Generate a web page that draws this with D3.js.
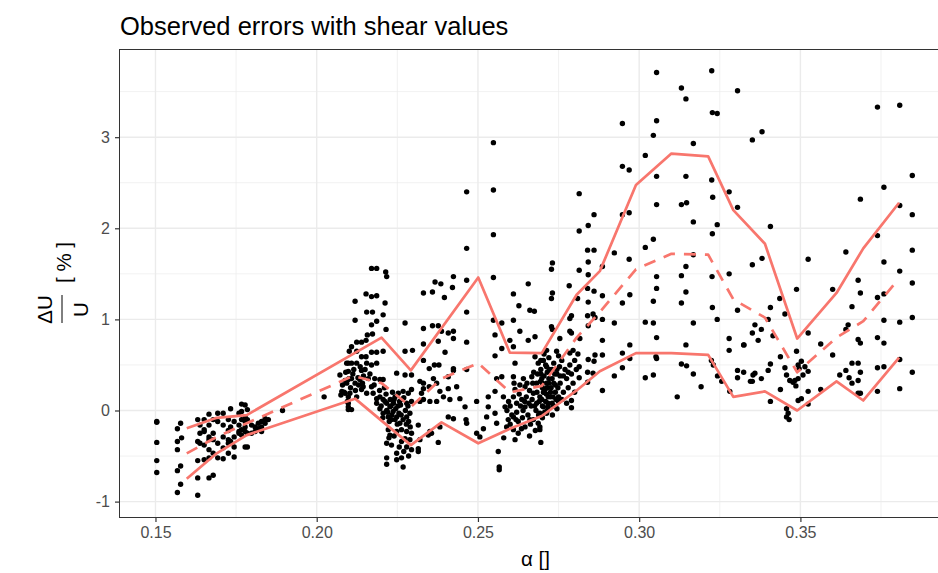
<!DOCTYPE html>
<html>
<head>
<meta charset="utf-8">
<script src="https://cdn.jsdelivr.net/npm/d3@7"></script>
<style>
  html, body { margin: 0; padding: 0; background: #ffffff; }
  svg { display: block; font-family: "Liberation Sans", Arial, sans-serif; }
</style>
</head>
<body>
<svg id="chart" width="938" height="573"></svg>
<script>
// ---------------- DATA ----------------
const chartTitle = "Observed errors with shear values";
const xTicks = [0.15, 0.20, 0.25, 0.30, 0.35];
const xTickLabels = ["0.15", "0.20", "0.25", "0.30", "0.35"];
const xMinor = [0.175, 0.225, 0.275, 0.325, 0.375];
const yTicks = [-1, 0, 1, 2, 3];
const yTickLabels = ["-1", "0", "1", "2", "3"];
const yMinor = [-0.5, 0.5, 1.5, 2.5, 3.5];
const xDomain = [0.139, 0.3967];
const yDomain = [-1.169, 3.968];

// observed points [alpha, dU/U %]
const obsLow = [
[0.1504,-0.12],[0.1504,-0.13],[0.1504,-0.35],[0.1504,-0.55],[0.1504,-0.68],
[0.1578,-0.14],[0.1568,-0.20],[0.1581,-0.30],[0.1568,-0.34],[0.1568,-0.43],[0.1578,-0.61],[0.1568,-0.66],[0.1578,-0.81],[0.1568,-0.90],
[0.1631,-0.10],[0.1631,-0.34],[0.1631,-0.55],[0.1631,-0.74],[0.1631,-0.93],
[0.1638,-0.16],[0.1638,-0.25],[0.1638,-0.36],
[0.1651,-0.10],[0.1651,-0.21],[0.1651,-0.23],[0.1651,-0.38],[0.1651,-0.54],
[0.1666,-0.04],[0.1666,-0.16],[0.1666,-0.29],[0.1666,-0.32],[0.1666,-0.43],[0.1666,-0.52],[0.1666,-0.74],
[0.1679,-0.10],[0.1679,-0.25],[0.1679,-0.32],[0.1679,-0.47],[0.1679,-0.71],
[0.1693,-0.03],[0.1693,-0.12],[0.1693,-0.36],[0.1693,-0.52],
[0.1710,-0.03],[0.1710,-0.16],[0.1710,-0.29],[0.1710,-0.41],[0.1710,-0.53],
[0.1726,-0.10],[0.1726,-0.22],[0.1726,-0.32],[0.1726,-0.36],[0.1726,-0.47],
[0.1733,0.02],[0.1733,-0.18],[0.1733,-0.34],
[0.1744,-0.12],[0.1744,-0.29],[0.1744,-0.40],[0.1744,-0.51],
[0.1759,-0.03],[0.1759,-0.16],[0.1759,-0.23],[0.1759,-0.25],
[0.1767,0.07],[0.1767,-0.01],[0.1767,-0.10],[0.1767,-0.21],[0.1767,-0.27],
[0.1778,0.06],[0.1778,-0.07],[0.1778,-0.12],[0.1778,-0.18],[0.1778,-0.23],[0.1778,-0.40],
[0.1785,0.01],[0.1785,-0.10],[0.1785,-0.25],[0.1785,-0.40],
[0.1798,-0.16],[0.1798,-0.25],[0.1809,-0.18],[0.1809,-0.23],[0.1819,-0.14],[0.1819,-0.20],
[0.1829,-0.12],[0.1829,-0.18],[0.1829,-0.23],[0.1840,-0.09],[0.1840,-0.14],[0.1850,-0.10],
[0.1894,0.00],[0.2023,0.15]
];

const obsMid = [
[0.2101,0.65],[0.2098,0.52],[0.2098,0.43],[0.2098,0.34],[0.2078,0.21],[0.2088,0.19],[0.2098,0.15],[0.2098,0.08],[0.2098,0.01],
[0.2170,1.56],[0.2186,1.56],[0.2214,1.52],[0.2217,1.47],[0.2119,1.20],[0.2119,0.99],[0.2153,1.28],[0.2170,1.25],[0.2186,1.26],
[0.2155,1.08],[0.2173,1.08],[0.2212,1.18],[0.2206,1.05],[0.2215,0.89],[0.2170,0.94],[0.2186,0.98],
[0.2124,0.75],[0.2139,0.75],[0.2153,0.77],[0.2157,0.83],[0.2173,0.84],[0.2108,0.70],[0.2124,0.65],[0.2139,0.59],[0.2153,0.59],
[0.2170,0.64],[0.2186,0.64],[0.2206,0.65],[0.2093,0.52],[0.2108,0.52],[0.2124,0.52],[0.2139,0.44],[0.2155,0.52],[0.2170,0.50],[0.2186,0.52],
[0.2072,0.39],[0.2093,0.30],[0.2108,0.35],[0.2119,0.30],[0.2134,0.34],[0.2144,0.26],[0.2103,0.19],[0.2124,0.15],[0.2139,0.23],
[0.2170,0.26],[0.2196,0.34],[0.2206,0.34],[0.2098,0.04],[0.2108,0.01],[0.2155,0.19],[0.2175,0.19],[0.2186,0.13],[0.2196,0.15],
[0.2206,0.12],[0.2217,0.08],[0.2186,0.08],[0.2196,0.02],[0.2206,-0.03],[0.2217,0.00],[0.2227,0.04],[0.2237,-0.01],[0.2222,-0.07],
[0.2232,-0.10],[0.2248,-0.07],[0.2258,-0.14],[0.2268,-0.10],[0.2279,-0.07],[0.2289,-0.03],[0.2243,0.15],[0.2253,0.19],[0.2268,0.21],
[0.2284,0.19],[0.2294,0.23],[0.2263,0.12],[0.2279,0.08],[0.2294,0.10],[0.2222,-0.21],[0.2227,-0.27],[0.2248,-0.23],[0.2263,-0.21],
[0.2279,-0.23],[0.2294,-0.25],[0.2274,-0.31],[0.2289,-0.32],[0.2217,-0.36],[0.2232,-0.38],[0.2263,-0.34],[0.2279,-0.40],[0.2294,-0.43],
[0.2315,-0.42],[0.2315,-0.45],[0.2217,-0.52],[0.2248,-0.47],[0.2263,-0.52],[0.2217,-0.59],[0.2248,-0.54],[0.2268,-0.62],
[0.2315,-0.16],[0.2320,-0.32],[0.2346,-0.27],[0.2351,-0.23],[0.2274,0.96],[0.2274,0.65],[0.2297,0.66],[0.2248,0.41],[0.2274,0.39],
[0.2294,0.39],[0.2320,0.32],[0.2331,0.30],[0.2325,0.19],[0.2331,0.12],[0.2320,0.10],[0.2351,0.10],[0.2372,0.10],
[0.2230,0.05],[0.2245,0.02],[0.2255,-0.03],[0.2240,0.12],[0.2260,0.06],[0.2275,0.00],[0.2285,-0.12],[0.2250,-0.15],[0.2235,0.20],
[0.2225,-0.12],[0.2215,0.18],[0.2210,0.25],[0.2195,0.22],[0.2180,0.35],[0.2165,0.40],[0.2150,0.45],[0.2145,0.38],[0.2130,0.28],
[0.2115,0.45],[0.2100,0.35],[0.2090,0.42],[0.2085,0.20],[0.2095,0.10],[0.2075,0.17],
[0.2200,0.05],[0.2205,-0.08],[0.2212,0.10],[0.2220,-0.02],[0.2228,0.12],[0.2233,-0.05],[0.2238,0.08],[0.2243,-0.10],[0.2252,0.05],
[0.2257,0.10],[0.2262,-0.05],[0.2270,0.14],[0.2278,-0.15],[0.2283,0.05],[0.2290,-0.18],[0.2224,-0.30],[0.2240,-0.28],[0.2256,-0.40],
[0.2270,-0.45],[0.2285,-0.50],[0.2080,0.28],[0.2088,0.33],[0.2105,0.25],[0.2112,0.40],[0.2120,0.22],[0.2128,0.36],[0.2135,0.48],
[0.2142,0.30],[0.2160,0.35],[0.2178,0.28]
];

const obsCentre = [
[0.2331,1.29],[0.2359,1.30],[0.2367,1.41],[0.2385,1.39],[0.2396,1.24],[0.2424,1.47],[0.2421,1.35],[0.2331,0.90],[0.2359,0.93],
[0.2377,0.93],[0.2387,0.87],[0.2424,0.87],[0.2424,0.79],[0.2331,0.73],[0.2377,0.76],[0.2408,0.85],[0.2398,0.64],[0.2331,0.55],
[0.2349,0.46],[0.2365,0.50],[0.2379,0.50],[0.2424,0.46],[0.2408,0.37],[0.2424,0.44],[0.2331,0.24],[0.2349,0.26],[0.2362,0.35],
[0.2372,0.30],[0.2382,0.21],[0.2408,0.24],[0.2434,0.26],[0.2393,0.15],[0.2413,0.12],[0.2356,-0.25],[0.2377,-0.35],[0.2382,-0.18],
[0.2408,-0.07],[0.2424,-0.09],[0.2444,0.13],[0.2460,0.04],[0.2463,-0.10],[0.2465,-0.14],[0.2465,2.40],[0.2465,1.78],[0.2465,1.43],
[0.2465,1.08],[0.2465,0.75],[0.2465,0.45],[0.2496,0.10],[0.2496,-0.25],[0.2506,-0.29],[0.2532,0.15],[0.2532,0.04],[0.2527,-0.07],
[0.2517,-0.20],[0.2553,-0.03],[0.2558,-0.14],[0.2563,-0.45],[0.2566,-0.62],[0.2566,-0.65],[0.2548,2.94],[0.2548,2.42],[0.2548,1.93],
[0.2548,1.46],[0.2548,0.99],[0.2553,0.83],[0.2553,0.60],[0.2558,0.35],[0.2553,0.21],[0.2574,0.96],[0.2574,0.68],[0.2574,0.37],
[0.2579,0.15],[0.2584,0.04],[0.2594,-0.10],[0.2589,-0.18],[0.2610,-0.07],[0.2610,1.28],[0.2610,0.99],[0.2599,0.77],[0.2610,0.70],
[0.2615,0.52],[0.2610,0.37],[0.2615,0.23],[0.2630,0.28],[0.2627,1.15],[0.2630,0.87],[0.2656,1.39],[0.2661,1.10],[0.2675,1.09],
[0.2677,0.81],[0.2656,0.77],[0.2610,0.15],[0.2620,0.08],[0.2636,0.12],[0.2646,0.04],[0.2610,-0.21],[0.2625,-0.25],[0.2646,-0.18],
[0.2661,-0.10],[0.2677,0.59],[0.2687,0.52],[0.2703,0.55],[0.2713,0.48],[0.2667,0.37],[0.2682,0.30],[0.2698,0.35],[0.2713,0.30],
[0.2672,0.19],[0.2692,0.15],[0.2708,0.23],[0.2718,0.15],[0.2682,0.08],[0.2703,0.04],[0.2692,-0.03],[0.2713,-0.03],[0.2672,-0.10],
[0.2687,-0.14],[0.2692,-0.21],[0.2718,0.04],[0.2641,0.35],[0.2646,0.26],
[0.2600,0.05],[0.2620,-0.02],[0.2640,0.00],[0.2655,-0.05],[0.2665,0.05],[0.2680,0.00],[0.2700,-0.08],[0.2710,0.10],[0.2725,0.20],
[0.2730,0.35],[0.2735,0.05],[0.2740,0.28],[0.2745,0.45],[0.2750,0.15],[0.2755,0.38],[0.2650,0.15],[0.2660,0.22],[0.2670,0.30],
[0.2685,0.40],[0.2695,0.45],[0.2705,0.38],[0.2720,0.30],[0.2715,0.42],[0.2690,0.10],[0.2700,0.25],[0.2625,-0.12],[0.2635,-0.20],
[0.2660,-0.28],[0.2678,-0.22],[0.2695,-0.35],[0.2580,-0.30],[0.2600,-0.15],[0.2615,-0.32],
[0.2590,0.00],[0.2595,0.10],[0.2605,-0.05],[0.2612,0.30],[0.2618,-0.10],[0.2628,0.18],[0.2632,0.05],[0.2638,-0.08],[0.2645,0.10],
[0.2652,0.30],[0.2658,0.08],[0.2663,-0.15],[0.2668,0.12],[0.2673,0.42],[0.2676,0.05],[0.2683,0.20],[0.2688,-0.05],[0.2694,0.32],
[0.2698,0.12],[0.2703,0.20],[0.2707,-0.02],[0.2712,0.18],[0.2717,0.08],[0.2722,0.45],[0.2727,0.25],[0.2733,0.15],[0.2738,0.40],
[0.2742,0.12],[0.2748,0.25],[0.2753,0.48]
];

const obsPeak = [
[0.3054,3.71],[0.3225,3.73],[0.3131,3.54],[0.3145,3.42],[0.3305,3.51],[0.3227,3.27],[0.3242,3.26],[0.2948,3.15],[0.3054,3.18],
[0.3044,3.02],[0.3168,2.93],[0.3019,2.80],[0.2948,2.68],[0.2969,2.64],[0.3054,2.57],[0.3145,2.57],[0.3225,2.53],[0.2814,2.38],
[0.3279,2.40],[0.3228,2.34],[0.3054,2.26],[0.3131,2.26],[0.3147,2.28],[0.3305,2.23],[0.2860,2.15],[0.2948,2.15],[0.2969,2.17],
[0.3168,2.07],[0.3242,2.04],[0.2842,2.03],[0.2814,1.97],[0.3227,1.94],[0.3019,1.79],[0.3044,1.88],[0.2840,1.76],[0.2860,1.76],
[0.2923,1.73],[0.3168,1.71],[0.2842,1.63],[0.2969,1.66],[0.2731,1.62],[0.2728,1.55],[0.2814,1.54],[0.3145,1.58],[0.2886,1.58],
[0.3279,1.50],[0.3131,1.48],[0.3054,1.47],[0.3226,1.47],[0.2842,1.49],[0.2783,1.37],[0.3054,1.34],[0.3145,1.30],[0.2840,1.34],
[0.2860,1.31],[0.2886,1.26],[0.2971,1.27],[0.2731,1.29],[0.2728,1.23],[0.2809,1.23],[0.2948,1.18],[0.3044,1.20],[0.3131,1.18],
[0.2842,1.19],[0.3227,1.13],[0.3305,1.10],[0.2790,1.04],[0.2785,1.01],[0.2840,1.04],[0.2857,1.06],[0.2863,1.02],[0.2886,1.00],
[0.2923,0.96],[0.3242,1.00],[0.3019,0.97],[0.3044,0.96],[0.3168,0.96],[0.2728,0.92],[0.2731,0.89],[0.2842,0.93],[0.2785,0.87],
[0.2790,0.85],[0.2816,0.79],[0.2754,0.79],[0.2886,0.77],[0.3054,0.80],[0.3279,0.79],[0.2971,0.72],[0.3145,0.72],[0.3325,0.72],
[0.2713,0.66],[0.2744,0.65],[0.2785,0.63],[0.2795,0.66],[0.2863,0.61],[0.2886,0.61],[0.3279,0.66],[0.2948,0.63],[0.2971,0.57],
[0.2842,0.56],[0.2860,0.54],[0.2814,0.48],[0.3052,0.59],[0.3054,0.57],[0.3131,0.51],[0.3147,0.49],[0.3224,0.55],[0.3230,0.50],
[0.2948,0.47],[0.2923,0.38],[0.2840,0.42],[0.2857,0.41],[0.3019,0.36],[0.3044,0.39],[0.3168,0.40],[0.3243,0.38],[0.3256,0.32],
[0.3305,0.44],[0.3305,0.36],[0.2814,0.36],[0.2840,0.31],[0.3192,0.26],[0.2886,0.22],[0.3281,0.21],[0.3118,0.15],[0.2790,0.11],
[0.2790,0.03],[0.2731,-0.05],[0.2692,-0.18],
[0.2695,0.40],[0.2700,0.30],[0.2705,0.20],[0.2710,0.50],[0.2715,0.25],[0.2720,0.35],[0.2725,0.15],[0.2730,0.45],[0.2735,0.30],
[0.2740,0.20],[0.2745,0.40],[0.2750,0.10],[0.2755,0.30],[0.2760,0.55],[0.2765,0.20],[0.2770,0.45],[0.2775,0.35],[0.2780,0.25],
[0.2785,0.50],[0.2790,0.40],[0.2795,0.30],[0.2800,0.55],[0.2805,0.45],[0.2810,0.62],[0.2700,0.05],[0.2715,0.00],[0.2730,0.08],
[0.2745,0.02],[0.2760,0.12],[0.2775,0.08],[0.2695,0.55],[0.2705,0.62],[0.2720,0.58],[0.2735,0.52],[0.2750,0.60],[0.2765,0.38],
[0.2780,0.42],[0.2800,0.20]
];

const obsHigh = [
[0.3351,2.97],[0.3381,3.06],[0.3739,3.33],[0.3808,3.35],[0.3847,2.58],[0.3759,2.45],[0.3686,2.32],[0.3808,2.25],[0.3847,2.15],
[0.3407,2.02],[0.3739,1.92],[0.3641,1.74],[0.3847,1.76],[0.3351,1.60],[0.3381,1.67],[0.3524,1.66],[0.3759,1.63],[0.3808,1.53],
[0.3679,1.43],[0.3686,1.29],[0.3847,1.40],[0.3488,1.33],[0.3600,1.33],[0.3739,1.24],[0.3759,1.28],[0.3436,1.23],[0.3407,1.13],
[0.3452,1.06],[0.3660,1.14],[0.3759,0.99],[0.3808,0.97],[0.3847,1.02],[0.3400,1.00],[0.3359,0.94],[0.3379,0.89],[0.3369,0.77],
[0.3351,0.85],[0.3324,0.72],[0.3415,0.82],[0.3524,0.85],[0.3648,0.94],[0.3641,0.89],[0.3679,0.78],[0.3686,0.74],[0.3739,0.80],
[0.3759,0.74],[0.3563,0.73],[0.3600,0.61],[0.3488,0.65],[0.3438,0.59],[0.3407,0.51],[0.3452,0.47],
[0.3493,0.50],[0.3503,0.54],[0.3496,0.46],[0.3514,0.48],[0.3524,0.43],[0.3508,0.39],[0.3493,0.35],[0.3483,0.33],
[0.3457,0.39],[0.3467,0.33],[0.3477,0.31],[0.3359,0.41],[0.3353,0.39],[0.3379,0.35],[0.3400,0.44],[0.3351,0.32],[0.3324,0.42],
[0.3486,0.27],[0.3438,0.23],[0.3524,0.21],[0.3563,0.23],[0.3493,0.11],[0.3503,0.13],[0.3524,0.07],[0.3407,0.10],[0.3345,0.32],
[0.3457,0.02],[0.3462,-0.03],[0.3465,-0.10],[0.3457,-0.07],[0.3641,0.44],[0.3660,0.52],[0.3679,0.52],[0.3651,0.36],[0.3660,0.30],
[0.3679,0.33],[0.3686,0.42],[0.3679,0.19],[0.3686,0.19],[0.3622,0.39],[0.3739,0.47],[0.3759,0.48],[0.3739,0.21],[0.3808,0.56],
[0.3808,0.24],[0.3847,0.42]
];

// binned quantile lines
const upperAlpha = [0.1597,0.1690,0.1783,0.2201,0.2292,0.2501,0.2599,0.2698,0.2806,0.2878,0.2990,0.3100,0.3214,0.3292,0.3390,0.3490,0.3612,0.3695,0.3806];
const upperDU    = [-0.195,-0.08,-0.05,0.80,0.44,1.46,0.635,0.63,1.27,1.53,2.475,2.82,2.79,2.20,1.83,0.79,1.29,1.78,2.28];
const medianAlpha = [0.1597,0.1690,0.1783,0.2113,0.2201,0.2292,0.2387,0.2501,0.2599,0.2698,0.2806,0.2878,0.2990,0.3100,0.3214,0.3292,0.3390,0.3490,0.3612,0.3695,0.3806];
const medianDU    = [-0.47,-0.29,-0.14,0.38,0.30,0.04,0.35,0.52,0.20,0.27,0.80,1.08,1.55,1.72,1.71,1.22,1.02,0.42,0.80,0.98,1.45];
const lowerAlpha = [0.1597,0.1690,0.1783,0.2119,0.2292,0.2387,0.2501,0.2599,0.2698,0.2806,0.2878,0.2990,0.3100,0.3214,0.3292,0.3390,0.3490,0.3612,0.3695,0.3806];
const lowerDU    = [-0.75,-0.47,-0.27,0.13,-0.38,-0.13,-0.36,-0.20,-0.06,0.22,0.43,0.63,0.63,0.61,0.15,0.21,0.00,0.32,0.11,0.58];

// ---------------- DRAW ----------------
const W = 938, H = 573;
const panel = { left: 120, right: 951, top: 49, bottom: 517 };
const svg = d3.select("#chart");
svg.append("rect").attr("width", W).attr("height", H).attr("fill", "#fff");

const x = d3.scaleLinear().domain(xDomain).range([panel.left, panel.right]);
const y = d3.scaleLinear().domain(yDomain).range([panel.bottom, panel.top]);

// title
svg.append("text").attr("x", 120).attr("y", 35)
  .attr("font-size", 25.5).attr("fill", "#000").text(chartTitle);

svg.append("clipPath").attr("id", "pclip").append("rect")
  .attr("x", panel.left).attr("y", panel.top)
  .attr("width", panel.right - panel.left).attr("height", panel.bottom - panel.top);

const gGrid = svg.append("g").attr("clip-path", "url(#pclip)");
gGrid.selectAll("line.vmin").data(xMinor).enter().append("line")
  .attr("x1", d => x(d)).attr("x2", d => x(d)).attr("y1", panel.top).attr("y2", panel.bottom)
  .attr("stroke", "#ebebeb").attr("stroke-width", 0.7);
gGrid.selectAll("line.hmin").data(yMinor).enter().append("line")
  .attr("y1", d => y(d)).attr("y2", d => y(d)).attr("x1", panel.left).attr("x2", panel.right)
  .attr("stroke", "#ebebeb").attr("stroke-width", 0.7);
gGrid.selectAll("line.vmaj").data(xTicks).enter().append("line")
  .attr("x1", d => x(d)).attr("x2", d => x(d)).attr("y1", panel.top).attr("y2", panel.bottom)
  .attr("stroke", "#ebebeb").attr("stroke-width", 1.4);
gGrid.selectAll("line.hmaj").data(yTicks).enter().append("line")
  .attr("y1", d => y(d)).attr("y2", d => y(d)).attr("x1", panel.left).attr("x2", panel.right)
  .attr("stroke", "#ebebeb").attr("stroke-width", 1.4);

// points
const allObs = [].concat(obsLow, obsMid, obsCentre, obsPeak, obsHigh);
const gPts = svg.append("g").attr("clip-path", "url(#pclip)");
gPts.selectAll("circle").data(allObs).enter().append("circle")
  .attr("cx", d => x(d[0])).attr("cy", d => y(d[1])).attr("r", 2.7).attr("fill", "#000");

// lines
const lineGen = d3.line().x(d => x(d[0])).y(d => y(d[1]));
const gLines = svg.append("g").attr("clip-path", "url(#pclip)");
function drawLine(ax, vy, dashed) {
  const pts = ax.map((a, i) => [a, vy[i]]);
  gLines.append("path").datum(pts).attr("d", lineGen)
    .attr("fill", "none").attr("stroke", "#F8766D").attr("stroke-width", 2.7)
    .attr("stroke-linejoin", "round")
    .attr("stroke-dasharray", dashed ? "12,9" : null);
}
drawLine(upperAlpha, upperDU, false);
drawLine(lowerAlpha, lowerDU, false);
drawLine(medianAlpha, medianDU, true);

// panel border
svg.append("rect").attr("x", panel.left - 0.5).attr("y", panel.top + 0.5)
  .attr("width", panel.right - panel.left).attr("height", panel.bottom - panel.top)
  .attr("fill", "none").attr("stroke", "#333333").attr("stroke-width", 1);

// axes
const xAxis = d3.axisBottom(x).tickValues(xTicks).tickFormat((d, i) => xTickLabels[i]).tickSize(5).tickPadding(5);
const gx = svg.append("g").attr("transform", `translate(0,${panel.bottom})`).call(xAxis);
gx.select(".domain").remove();
gx.selectAll(".tick line").attr("stroke", "#333333").attr("stroke-width", 1.2);
gx.selectAll(".tick text").attr("fill", "#4d4d4d").attr("font-size", 16)
  .attr("font-family", "Liberation Sans, Arial, sans-serif");

const yAxis = d3.axisLeft(y).tickValues(yTicks).tickFormat((d, i) => yTickLabels[i]).tickSize(5).tickPadding(5);
const gy = svg.append("g").attr("transform", `translate(${panel.left},0)`).call(yAxis);
gy.select(".domain").remove();
gy.selectAll(".tick line").attr("stroke", "#333333").attr("stroke-width", 1.2);
gy.selectAll(".tick text").attr("fill", "#4d4d4d").attr("font-size", 16)
  .attr("font-family", "Liberation Sans, Arial, sans-serif");

// x title
svg.append("text").attr("x", (panel.left + panel.right) / 2).attr("y", 566)
  .attr("text-anchor", "middle").attr("font-size", 20.5).attr("fill", "#000").text("α []");

// y title: fraction ΔU / U  [ % ]
const gyt = svg.append("g").attr("transform", "rotate(-90)");
gyt.append("text").attr("x", -309.5).attr("y", 52).attr("text-anchor", "middle")
  .attr("font-size", 20.5).attr("fill", "#000").text("ΔU");
gyt.append("line").attr("x1", -323).attr("x2", -295).attr("y1", 62).attr("y2", 62)
  .attr("stroke", "#000").attr("stroke-width", 1);
gyt.append("text").attr("x", -309.5).attr("y", 88).attr("text-anchor", "middle")
  .attr("font-size", 20.5).attr("fill", "#000").text("U");
gyt.append("text").attr("x", -262.5).attr("y", 71).attr("text-anchor", "middle")
  .attr("font-size", 20.5).attr("fill", "#000").text("[ % ]");
</script>
</body>
</html>
